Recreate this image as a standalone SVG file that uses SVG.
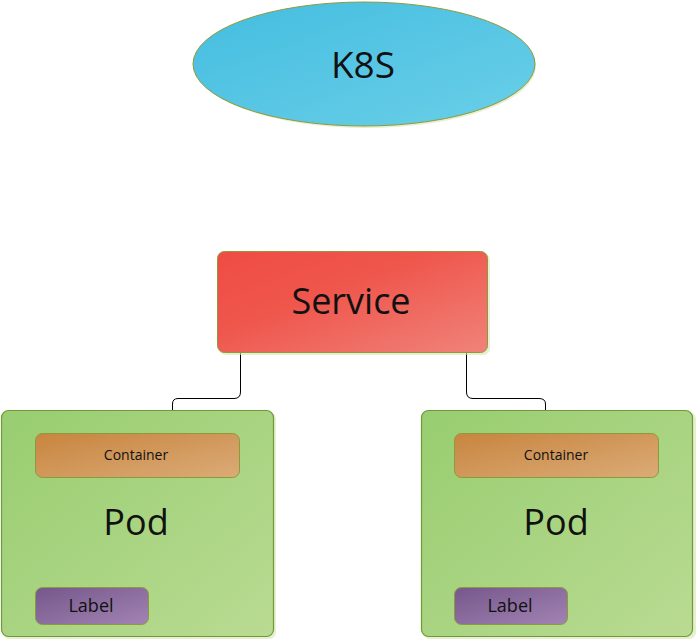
<svg xmlns="http://www.w3.org/2000/svg" width="697" height="641" viewBox="0 0 697 641">
<style>
.t{font-family:"Open Sans","Noto Sans","DejaVu Sans",sans-serif;fill:#111;text-anchor:middle;dominant-baseline:central}
.b{stroke:#8c9a3c;stroke-width:1}
.c{fill:none;stroke:#000;stroke-width:1}
</style>
<defs>
<linearGradient id="gE" x1="0" y1="0" x2="1" y2="1"><stop offset="0" stop-color="#44bde0"/><stop offset="1" stop-color="#6acfe8"/></linearGradient>
<linearGradient id="gS" x1="0" y1="0" x2="1" y2="1"><stop offset="0" stop-color="#ef4c43"/><stop offset="0.4" stop-color="#ef564c"/><stop offset="1" stop-color="#f0837a"/></linearGradient>
<linearGradient id="gP" x1="0" y1="0" x2="1" y2="1"><stop offset="0" stop-color="#98cd70"/><stop offset="1" stop-color="#b9db92"/></linearGradient>
<linearGradient id="gC" x1="0" y1="0" x2="1" y2="1"><stop offset="0" stop-color="#c8853f"/><stop offset="1" stop-color="#dbab77"/></linearGradient>
<linearGradient id="gL" x1="0" y1="0" x2="1" y2="1"><stop offset="0" stop-color="#75578c"/><stop offset="1" stop-color="#a283b2"/></linearGradient>
</defs>
<g id="connectors">
<path class="c" d="M240.5,353 V392 Q240.5,398.5 234,398.5 H178 Q172.5,398.5 172.5,404 V410"/>
<path class="c" d="M466.5,353 V392 Q466.5,398.5 473,398.5 H539 Q545.5,398.5 545.5,404 V410"/>
</g>
<g id="k8s">
<ellipse cx="366" cy="66" rx="170" ry="62" fill="#d9e3b0" opacity="0.6"/>
<ellipse class="b" cx="364" cy="64" rx="171" ry="62" fill="url(#gE)"/>
<text class="t" x="363" y="63" font-size="37">K8S</text>
</g>
<g id="service">
<rect x="219" y="253" width="271" height="102" rx="7" fill="#d9e3b0" opacity="0.6"/>
<rect class="b" x="217.5" y="251.5" width="270" height="101" rx="7" fill="url(#gS)"/>
<text class="t" x="351" y="300" font-size="36">Service</text>
</g>
<g id="pod1">
<rect x="3" y="412" width="273" height="227" rx="7" fill="#d9e3b0" opacity="0.6"/>
<rect x="1.5" y="410.5" width="272" height="226" rx="7" fill="url(#gP)" stroke="#6f9a3a" stroke-width="1.2"/>
<text class="t" x="136" y="521" font-size="36">Pod</text>
</g>
<g id="container1">
<rect class="b" x="35.5" y="433.5" width="204" height="44" rx="7" fill="url(#gC)"/>
<text class="t" x="136" y="454" font-size="14">Container</text>
</g>
<g id="label1">
<rect class="b" x="35.5" y="587.5" width="113" height="37" rx="7" fill="url(#gL)"/>
<text class="t" x="91" y="605" font-size="18">Label</text>
</g>
<g id="pod2">
<rect x="423" y="412" width="273" height="227" rx="7" fill="#d9e3b0" opacity="0.6"/>
<rect x="421.5" y="410.5" width="271" height="226" rx="7" fill="url(#gP)" stroke="#6f9a3a" stroke-width="1.2"/>
<text class="t" x="556" y="521" font-size="36">Pod</text>
</g>
<g id="container2">
<rect class="b" x="454.5" y="433.5" width="204" height="44" rx="7" fill="url(#gC)"/>
<text class="t" x="556" y="454" font-size="14">Container</text>
</g>
<g id="label2">
<rect class="b" x="454.5" y="587.5" width="113" height="37" rx="7" fill="url(#gL)"/>
<text class="t" x="510" y="605" font-size="18">Label</text>
</g>
</svg>
